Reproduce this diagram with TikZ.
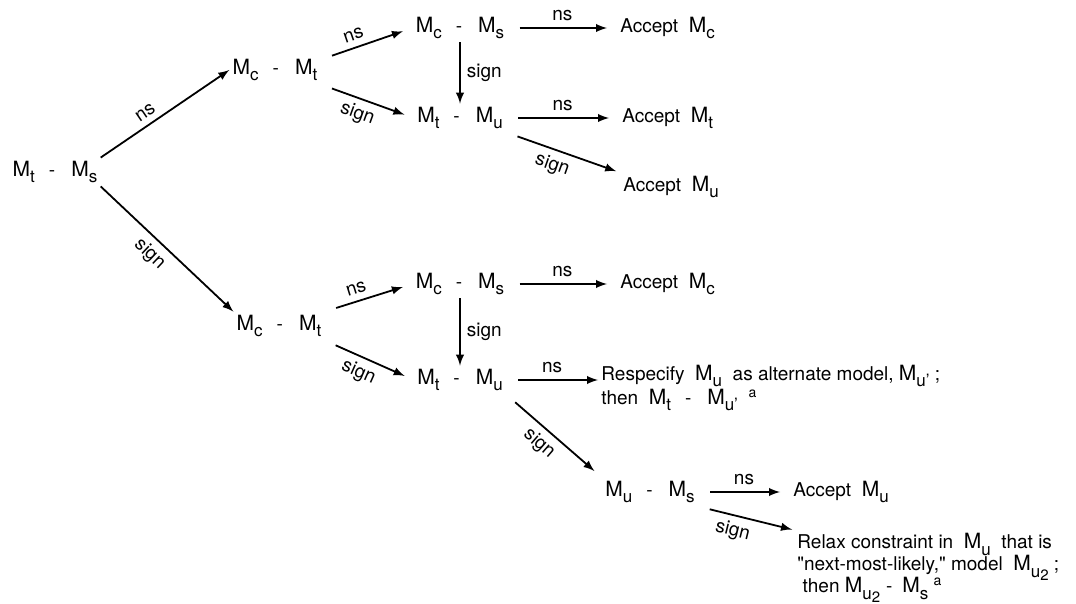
\documentclass[tikz,border=0pt]{standalone}
\usepackage{fontspec}
\setmainfont{TeX Gyre Heros}
\newcommand{\lo}[1]{\raisebox{-0.65ex}{\fontsize{8.5}{9}\selectfont #1}}
\newcommand{\Msub}[1]{{\fontsize{10.5}{11}\selectfont M}\lo{#1}}
\newcommand{\Mtwo}{{\fontsize{10.5}{11}\selectfont M}\lo{u\raisebox{-0.4ex}{\fontsize{7.5}{8}\selectfont 2}}}
\newcommand{\sa}{\raisebox{0.7ex}{\fontsize{7}{8}\selectfont a}}
\newcommand{\dif}{\hspace{7pt}-\hspace{8pt}}
\tikzstyle{cmp}=[inner sep=1.5pt, font=\fontsize{9.5}{10}\selectfont]
\tikzstyle{outcome}=[cmp, anchor=west]
\tikzstyle{lbl}=[inner sep=3pt, font=\fontsize{9.5}{10}\selectfont]
\tikzstyle{branch}=[-latex, line width=0.9pt]
\tikzstyle{gap}=[shorten <=6pt, shorten >=5pt]

\begin{document}
\begin{tikzpicture}[x=0.5pt, y=-0.5pt]
\useasboundingbox (0,0) rectangle (1076,604);
% first comparison
\node[cmp] (n0) at (55,172) {\Msub{t}\dif\Msub{s}};
% ns branch
\node[cmp] (n1) at (275,70) {\Msub{c}\dif\Msub{t}};
\node[cmp] (n2) at (460,28) {\Msub{c}\dif\Msub{s}};
\node[cmp] (n3) at (460,118) {\Msub{t}\dif\Msub{u}};
\node[outcome] (a1) at (617,28) {Accept\ \ \Msub{c}};
\node[outcome] (a2) at (619,118) {Accept\ \ \Msub{t}};
\node[outcome] (a3) at (620,187) {Accept\ \ \Msub{u}};
\draw[branch] (n0.north east) -- node[lbl, sloped, above, pos=0.4]{ns} (n1.west);
\draw[branch, gap] ([yshift=-2pt]n1.north east) -- node[lbl, sloped, above, pos=0.4]{ns} (n2.west);
\draw[branch, gap] (n1.south east) -- node[lbl, sloped, below, pos=0.45]{sign} (n3.west);
\draw[branch] (n2.south) -- node[lbl, right]{sign} (n2.south |- n3.north);
\draw[branch, gap] (n2.east) -- node[lbl, above]{ns} (a1.west);
\draw[branch, gap] (n3.east) -- node[lbl, above]{ns} (a2.west);
\draw[branch, shorten <=6pt, shorten >=2pt] (n3.south east) -- node[lbl, sloped, below, pos=0.45]{sign} (a3.north west);
% sign branch
\node[cmp] (n4) at (279,326) {\Msub{c}\dif\Msub{t}};
\node[cmp] (n5) at (460,284) {\Msub{c}\dif\Msub{s}};
\node[cmp] (n6) at (460,380) {\Msub{t}\dif\Msub{u}};
\node[outcome] (a4) at (617,284) {Accept\ \ \Msub{c}};
\node[outcome, align=left] (r1) at (598,388) {Respecify\ \ \Msub{u}\ \ as alternate model, \Msub{u’}\ ;\\then\ \ \Msub{t}\dif\Msub{u’}\ \ \sa};
\node[cmp] (n7) at (650,492) {\Msub{u}\dif\Msub{s}};
\node[outcome] (a5) at (790,492) {Accept\ \ \Msub{u}};
\node[outcome, anchor=north west, align=left, font=\fontsize{9.5}{11}\selectfont, execute at begin node={\lineskiplimit=-6pt\relax}] (r2) at (794,530) {Relax constraint in\ \ \Msub{u}\ \ that is\\\textquotedbl next-most-likely,\textquotedbl\ model\ \ \Mtwo\ ;\\\ then \Mtwo\hspace{3pt}-\hspace{5pt}\Msub{s} \sa};
\draw[branch] (n0.south east) -- node[lbl, sloped, below, pos=0.45]{sign} (n4.north west);
\draw[branch, gap] (n4.north east) -- node[lbl, sloped, above, pos=0.4]{ns} (n5.west);
\draw[branch, gap] (n4.south east) -- node[lbl, sloped, below, pos=0.45]{sign} (n6.west);
\draw[branch] (n5.south) -- node[lbl, right]{sign} (n5.south |- n6.north);
\draw[branch, gap] (n5.east) -- node[lbl, above]{ns} (a4.west);
\draw[branch, shorten <=6pt] (n6.east) -- node[lbl, above]{ns} (n6.east -| r1.west);
\draw[branch, gap] (n6.south east) -- node[lbl, sloped, below, pos=0.45]{sign} (n7.north west);
\draw[branch, gap] (n7.east) -- node[lbl, above]{ns} (a5.west);
\draw[branch, shorten <=6pt, shorten >=1pt] (n7.south east) -- node[lbl, sloped, below, pos=0.4]{sign} (r2.north west);
\end{tikzpicture}
\end{document}
